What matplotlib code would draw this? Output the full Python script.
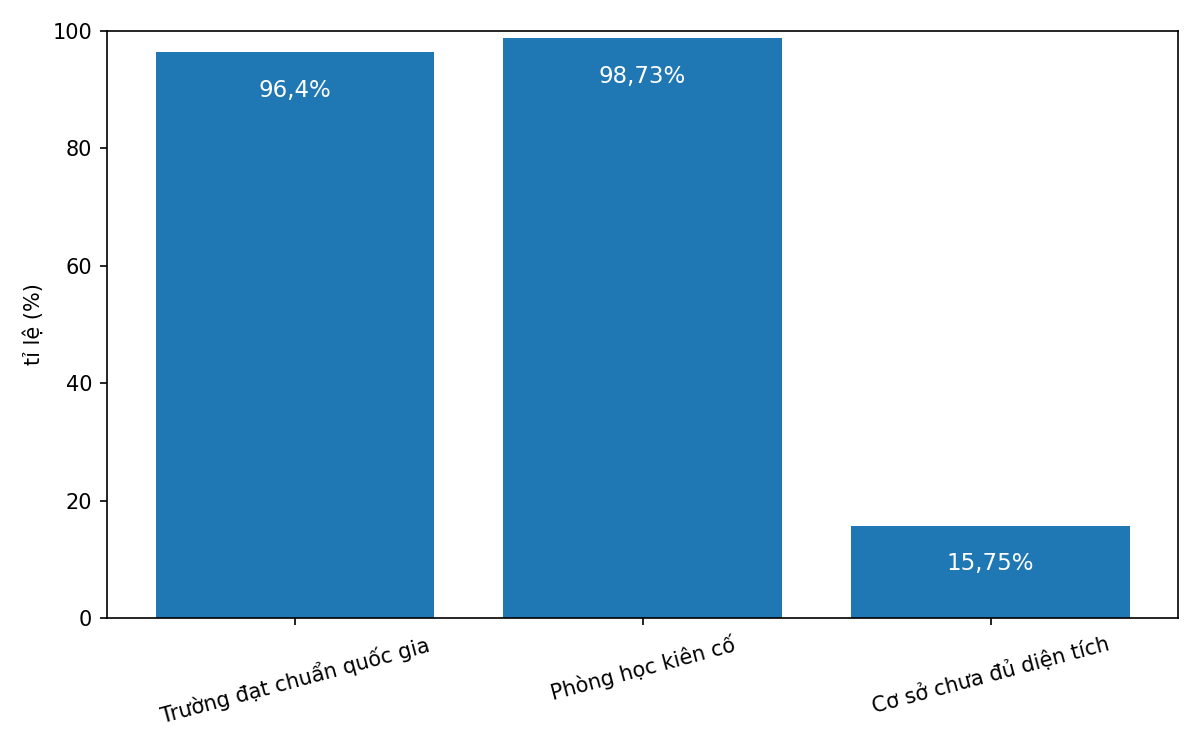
import matplotlib
matplotlib.use("Agg")
import matplotlib.pyplot as plt

categories = ["Trường đạt chuẩn quốc gia", "Phòng học kiên cố", "Cơ sở chưa đủ diện tích"]
values = [96.4, 98.73, 15.75]
labels = ["96,4%", "98,73%", "15,75%"]

fig = plt.figure(figsize=(8, 5), dpi=150)
ax = fig.add_axes([0.089, 0.176, 0.893, 0.783])
bars = ax.bar(categories, values, color="#1f77b4", width=0.8)
for b, v, t in zip(bars, values, labels):
    ax.text(b.get_x() + b.get_width() / 2, v - 6.5, t, ha="center", va="center",
            color="white", fontsize=11)
ax.set_ylim(0, 100)
ax.set_ylabel("tỉ lệ (%)")
plt.setp(ax.get_xticklabels(), rotation=15)
fig.savefig("out.png", dpi=150)
